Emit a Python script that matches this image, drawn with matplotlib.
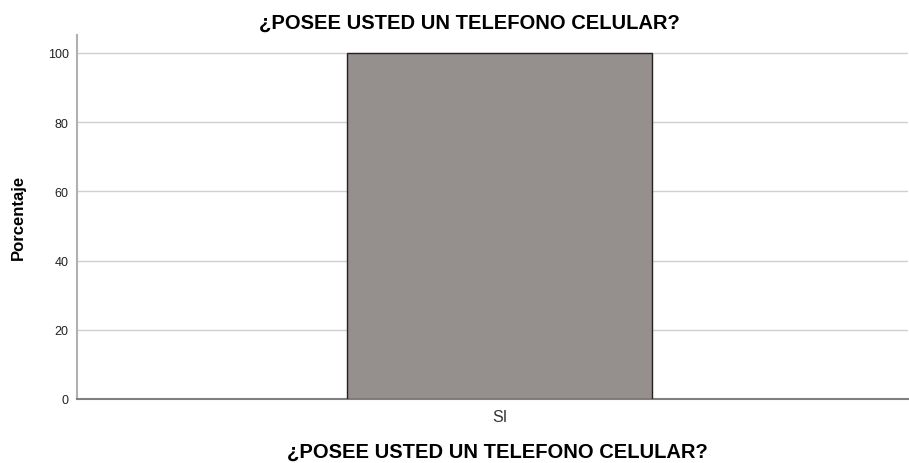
import matplotlib
matplotlib.use("Agg")
import matplotlib.pyplot as plt

categories = ["SI"]
percentages = [100.0]
yticks = [0, 20, 40, 60, 80, 100]
title = "¿POSEE USTED UN TELEFONO CELULAR?"
ylabel = "Porcentaje"

plt.rcParams['font.family'] = ['Liberation Sans', 'DejaVu Sans']

W, H = 909, 464
fig = plt.figure(figsize=(W / 100, H / 100), dpi=100)
ax = fig.add_axes([77 / W, (H - 400) / H, 831 / W, 364 / H])

x = list(range(len(categories)))
ax.bar(x, percentages, width=1.0, color="#958f8d", edgecolor="#222222",
       linewidth=1.0, zorder=3)

ax.set_xlim(-1.385, 1.339)
ax.set_ylim(0, 105.2)
ax.set_yticks(yticks)
ax.set_yticklabels([str(v) for v in yticks], fontsize=9, color="#222222")
ax.set_xticks(x)
ax.set_xticklabels(categories, fontsize=11.5, color="#333333")
ax.tick_params(axis='x', length=0, pad=7)
ax.tick_params(axis='y', length=0, pad=6)

ax.yaxis.grid(True, color="#cfcfcf", linewidth=1.0, zorder=0)
ax.set_axisbelow(True)
for s in ["top", "right"]:
    ax.spines[s].set_visible(False)
ax.spines["left"].set_color("#b0b0b0")
ax.spines["left"].set_linewidth(1.5)
ax.spines["bottom"].set_color("#808080")
ax.spines["bottom"].set_linewidth(1.5)

# y-axis label
fig.text(18 / W, 1 - 217 / H, ylabel, rotation=90, ha="center", va="center",
         fontsize=12, fontweight="bold")
# x-axis label
ax.set_xlabel(title, fontsize=14.5, fontweight="bold")
ax.xaxis.set_label_coords((497 - 77) / 831, -(458 - 400) / 364)
ax.xaxis.label.set_va("baseline")
ax.xaxis.label.set_ha("center")
# title
fig.text(469 / W, 1 - 29 / H, title, ha="center", va="baseline",
         fontsize=14.5, fontweight="bold")

fig.savefig("out.png", dpi=100, facecolor="white")
